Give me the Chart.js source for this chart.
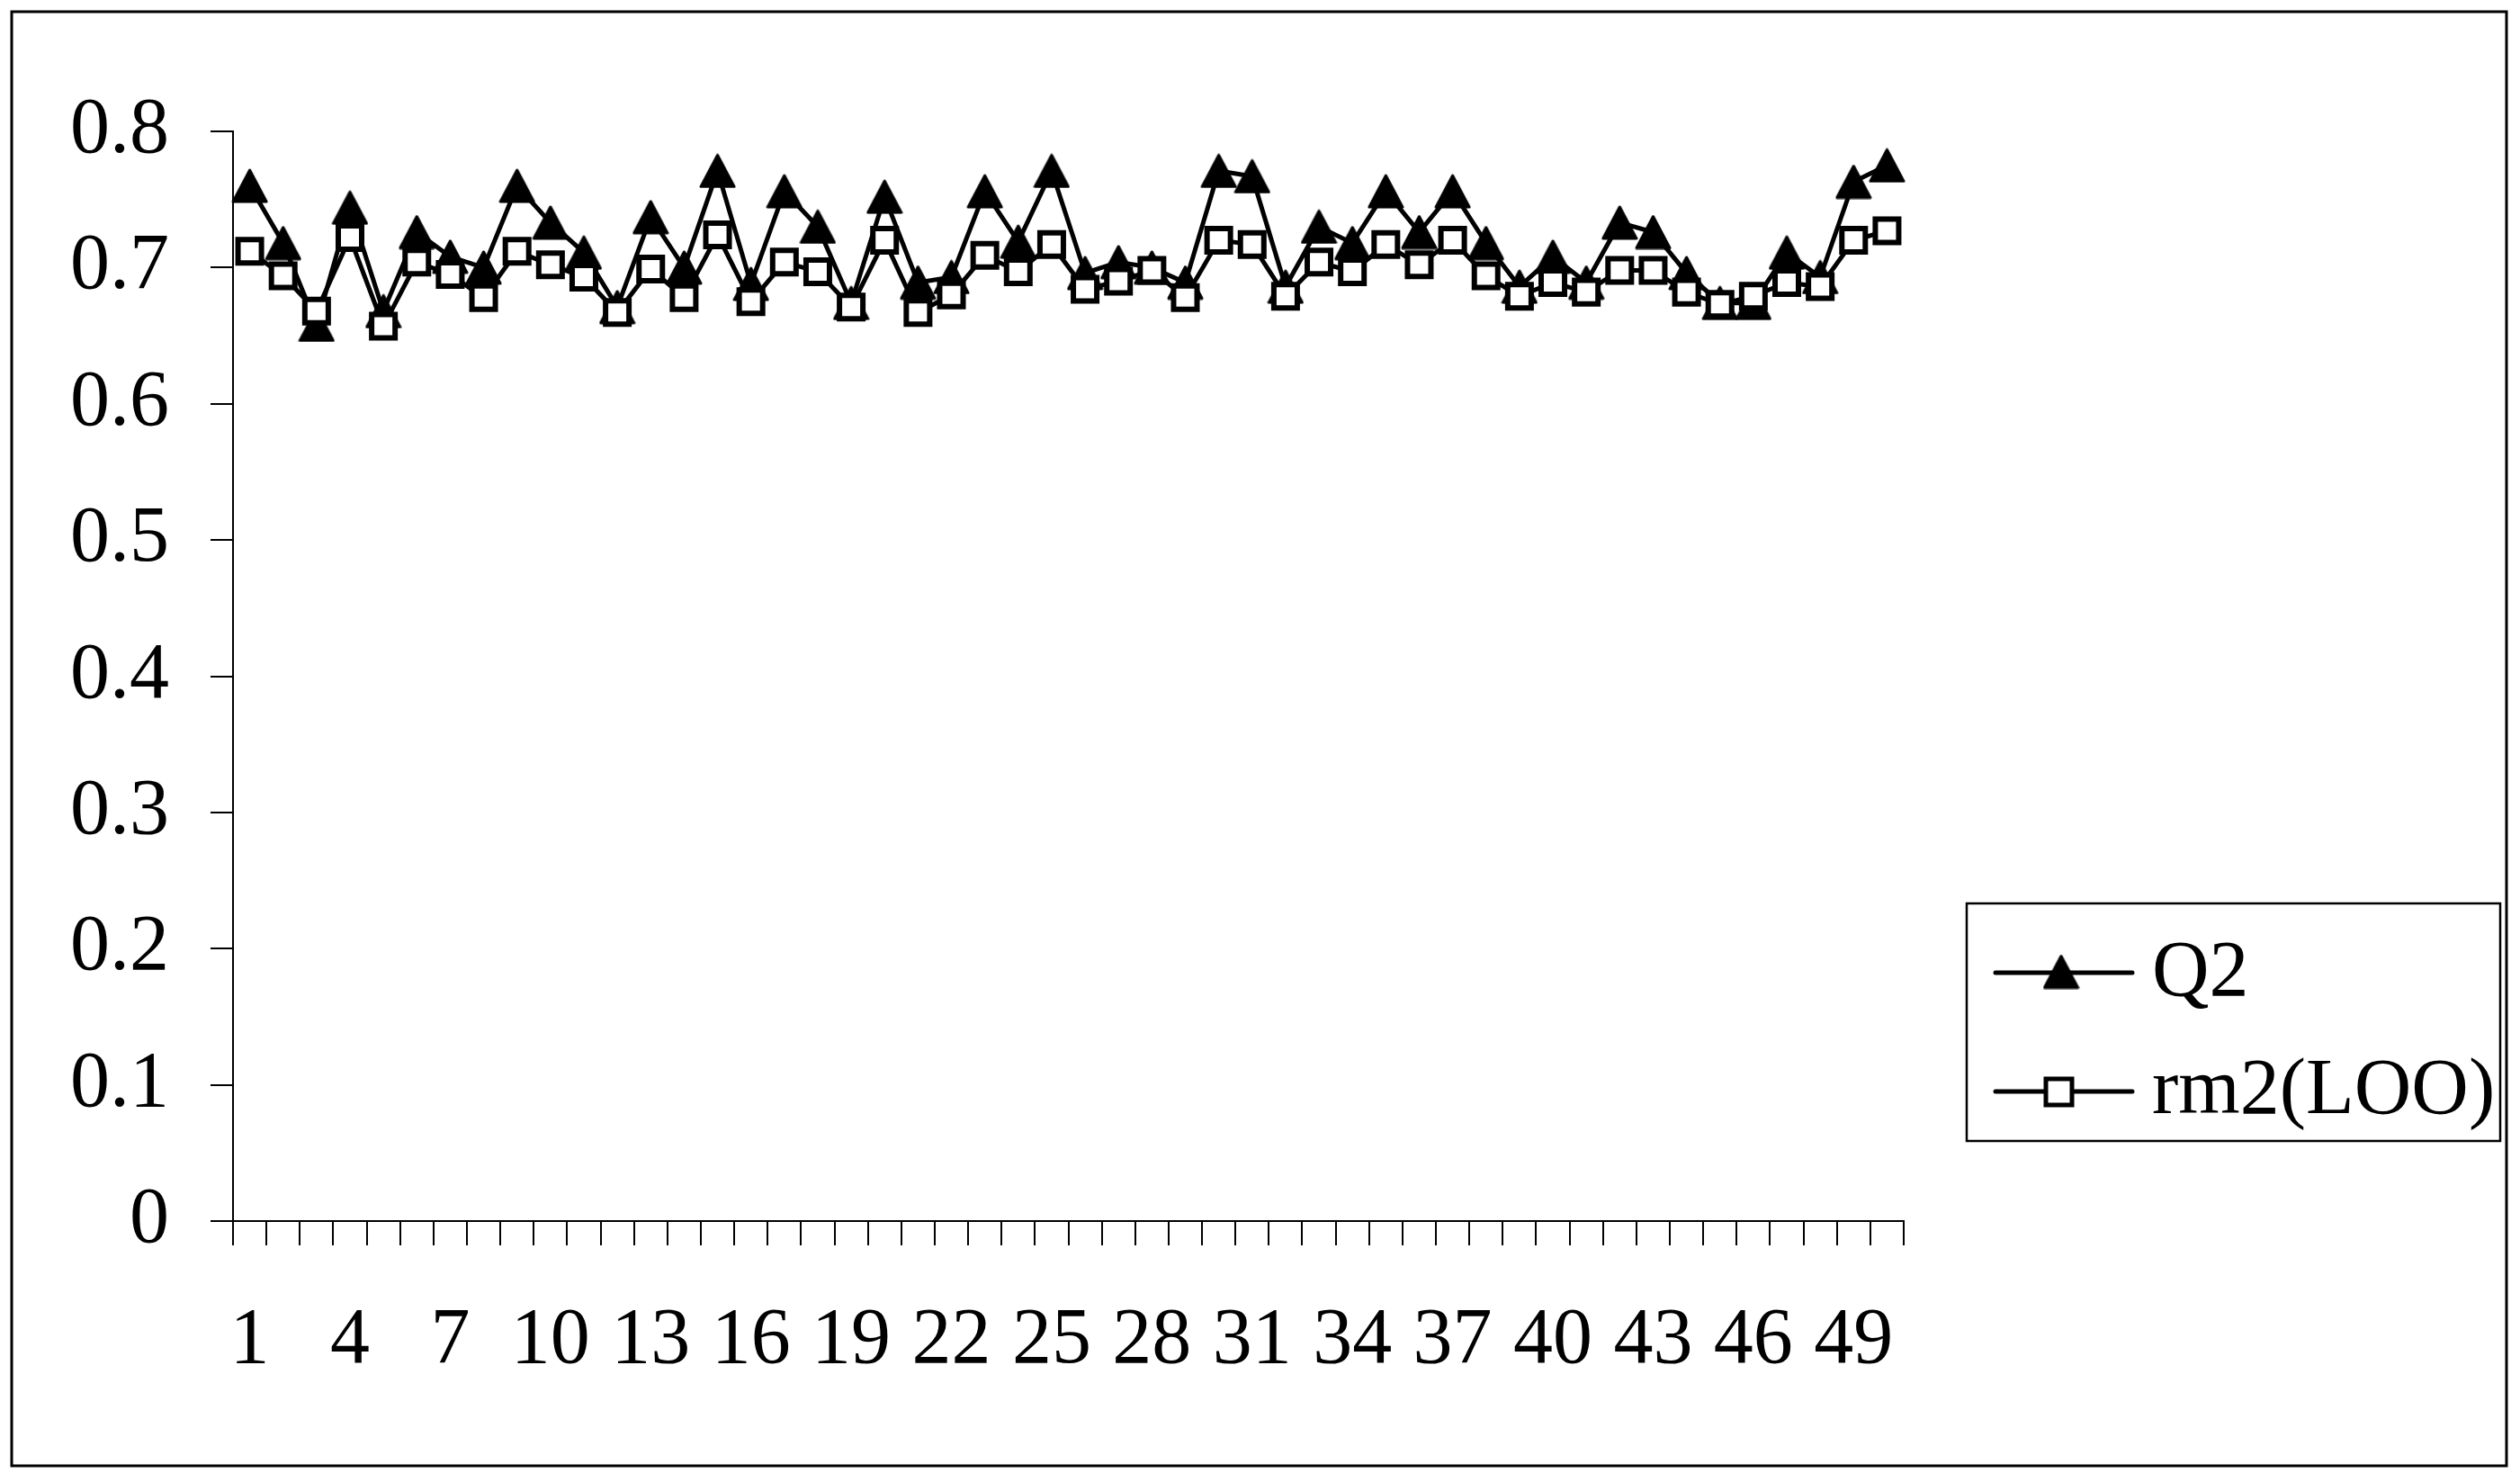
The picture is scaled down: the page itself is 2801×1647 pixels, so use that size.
<!DOCTYPE html>
<html>
<head>
<meta charset="utf-8">
<script src="https://cdn.jsdelivr.net/npm/chart.js@4.4.1/dist/chart.umd.min.js"></script>
<style>
  html, body { margin: 0; padding: 0; background: #fff; }
  canvas { display: block; }
</style>
</head>
<body>
<canvas id="chart" width="2801" height="1647"></canvas>
<script>
// values
const categories = Array.from({ length: 50 }, (_, i) => String(i + 1));
const q2Values = [
  0.760, 0.718, 0.658, 0.744, 0.668, 0.726, 0.708, 0.700, 0.760, 0.733,
  0.711, 0.671, 0.737, 0.700, 0.771, 0.688, 0.756, 0.730, 0.674, 0.752,
  0.689, 0.693, 0.756, 0.719, 0.771, 0.696, 0.704, 0.700, 0.689, 0.771,
  0.767, 0.686, 0.730, 0.718, 0.756, 0.726, 0.756, 0.718, 0.686, 0.708,
  0.689, 0.733, 0.726, 0.696, 0.674, 0.674, 0.711, 0.693, 0.763, 0.775
];
const rm2Values = [
  0.712, 0.694, 0.668, 0.722, 0.657, 0.704, 0.695, 0.678, 0.712, 0.702,
  0.693, 0.667, 0.699, 0.678, 0.724, 0.675, 0.704, 0.697, 0.671, 0.720,
  0.667, 0.680, 0.709, 0.697, 0.717, 0.684, 0.690, 0.698, 0.678, 0.720,
  0.717, 0.679, 0.704, 0.697, 0.717, 0.702, 0.720, 0.694, 0.679, 0.689,
  0.682, 0.698, 0.698, 0.682, 0.673, 0.679, 0.689, 0.686, 0.720, 0.727
];
const seriesNames = ['Q2', 'rm2(LOO)'];
const yTicks = [0, 0.1, 0.2, 0.3, 0.4, 0.5, 0.6, 0.7, 0.8];
const yTickLabels = ['0', '0.1', '0.2', '0.3', '0.4', '0.5', '0.6', '0.7', '0.8'];

const FONT = '"Liberation Serif", "Times New Roman", serif';
const FONT_SIZE = 88;

// filled triangle centred on its box, like the spreadsheet marker
function makeTriangle(w, h) {
  const c = document.createElement('canvas');
  c.width = w + 4;
  c.height = h + 4;
  const g = c.getContext('2d');
  g.beginPath();
  g.moveTo(c.width / 2, 2);
  g.lineTo(w + 2, h + 2);
  g.lineTo(2, h + 2);
  g.closePath();
  g.fillStyle = '#000';
  g.strokeStyle = '#000';
  g.lineJoin = 'round';
  g.lineWidth = 3;
  g.fill();
  g.stroke();
  return c;
}
const triangle = makeTriangle(37, 35);

const pagePlugin = {
  id: 'page',
  beforeDraw(chart) {
    const ctx = chart.ctx;
    ctx.save();
    ctx.fillStyle = '#fff';
    ctx.fillRect(0, 0, chart.width, chart.height);
    ctx.restore();
  },
  afterDraw(chart) {
    const ctx = chart.ctx;
    ctx.save();
    // outer frame
    ctx.strokeStyle = '#000';
    ctx.lineWidth = 3;
    ctx.strokeRect(13, 13, 2773, 1616);

    // legend box
    ctx.lineWidth = 2.5;
    ctx.strokeRect(2186, 1004, 593, 264);
    const rows = [{ y: 1081, base: 1106 }, { y: 1213, base: 1237 }];
    rows.forEach((row, i) => {
      const y = row.y;
      ctx.strokeStyle = '#000';
      ctx.lineWidth = 5;
      ctx.lineCap = 'round';
      ctx.beginPath();
      ctx.moveTo(2218, y);
      ctx.lineTo(2370, y);
      ctx.stroke();
      if (i === 0) {
        ctx.drawImage(triangle, 2291 - triangle.width / 2, y - triangle.height / 2 - 1);
      } else {
        ctx.fillStyle = '#fff';
        ctx.lineWidth = 5;
        ctx.fillRect(2274, y - 14, 29, 29);
        ctx.strokeRect(2274, y - 14, 29, 29);
      }
      ctx.fillStyle = '#000';
      ctx.font = FONT_SIZE + 'px ' + FONT;
      ctx.textAlign = 'left';
      ctx.textBaseline = 'alphabetic';
      ctx.fillText(seriesNames[i], 2392, row.base);
    });
    ctx.restore();
  }
};

new Chart(document.getElementById('chart'), {
  type: 'line',
  data: {
    labels: categories,
    datasets: [
      {
        label: seriesNames[0],
        data: q2Values,
        borderColor: '#000',
        borderWidth: 5,
        pointStyle: triangle,
        pointRadius: 20,
        order: 2
      },
      {
        label: seriesNames[1],
        data: rm2Values,
        borderColor: '#000',
        borderWidth: 5,
        pointStyle: 'rect',
        pointRadius: 18.4,
        pointBorderWidth: 6,
        pointBackgroundColor: '#fff',
        pointBorderColor: '#000',
        order: 1
      }
    ]
  },
  options: {
    responsive: false,
    devicePixelRatio: 1,
    animation: false,
    layout: { padding: { top: 146, right: 685, bottom: 0, left: 0 } },
    plugins: {
      legend: { display: false },
      tooltip: { enabled: false }
    },
    elements: { line: { tension: 0 } },
    scales: {
      x: {
        offset: true,
        grid: {
          offset: true,
          drawOnChartArea: false,
          drawTicks: true,
          tickLength: 27,
          color: '#000',
          lineWidth: 2
        },
        border: { display: true, color: '#000', width: 2 },
        ticks: {
          autoSkip: false,
          maxRotation: 0,
          color: '#000',
          padding: 54,
          font: { family: FONT, size: FONT_SIZE },
          callback(value, index) {
            return index % 3 === 0 ? categories[index] : '';
          }
        },
        afterFit(scale) { scale.height = 290; }
      },
      y: {
        min: 0,
        max: 0.8,
        grid: {
          drawOnChartArea: false,
          drawTicks: true,
          tickLength: 25,
          color: '#000',
          lineWidth: 2
        },
        border: { display: true, color: '#000', width: 2 },
        afterBuildTicks(scale) {
          scale.ticks = yTicks.map(v => ({ value: v }));
        },
        ticks: {
          color: '#000',
          padding: 46,
          font: { family: FONT, size: FONT_SIZE },
          callback(value) {
            const i = yTicks.findIndex(t => Math.abs(t - value) < 1e-9);
            return i >= 0 ? yTickLabels[i] : '';
          }
        },
        afterFit(scale) { scale.width = 259; }
      }
    }
  },
  plugins: [pagePlugin]
});
</script>
</body>
</html>
